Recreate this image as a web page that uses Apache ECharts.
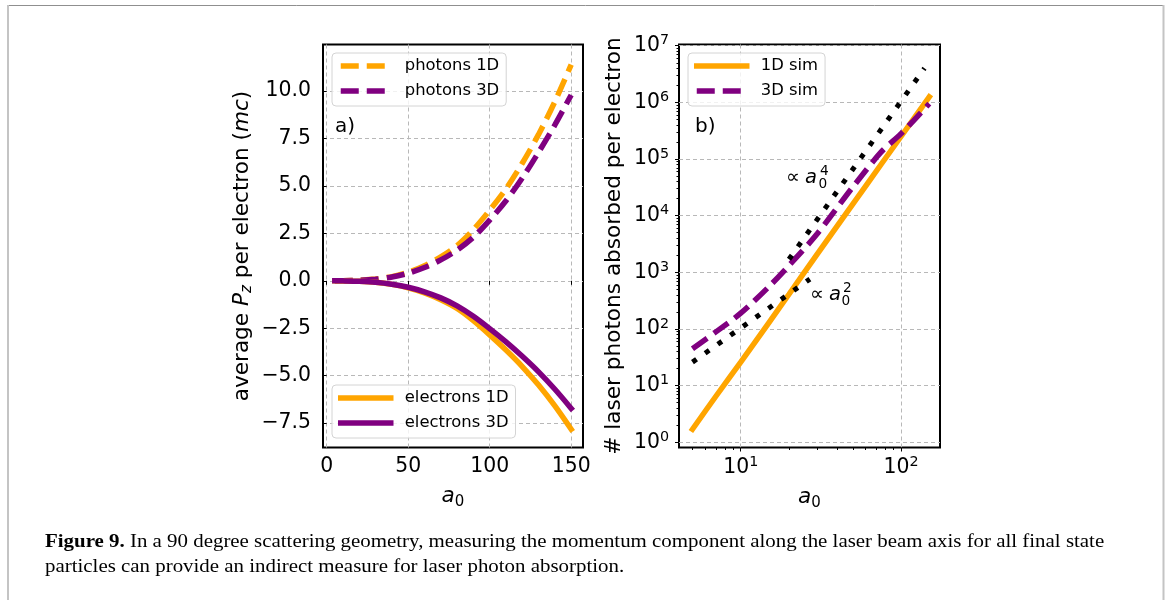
<!DOCTYPE html>
<html>
<head>
<meta charset="utf-8">
<script src="https://cdn.jsdelivr.net/npm/echarts@6/dist/echarts.min.js"></script>
<style>
html, body { margin: 0; padding: 0; background: #fff; }
#container { width: 1167px; height: 600px; }
</style>
</head>
<body>
<div id="container"></div>
<script>
var dom = document.getElementById("container");
var myChart = echarts.init(dom);

var FONT = 'DejaVu Sans';
var ORANGE = '#ffa500';
var PURPLE = '#800080';

// panel a) average Pz per electron
var a0 = [5, 10, 20, 30, 40, 50, 60, 70, 80, 90, 100, 110, 120, 130, 140, 150];
var photons1D = [0, 0.003, 0.025, 0.09, 0.22, 0.45, 0.8, 1.26, 1.86, 2.7, 3.72, 4.85, 6.2, 7.72, 9.45, 11.4];
var photons3D = [0, 0.003, 0.025, 0.085, 0.2, 0.4, 0.7, 1.1, 1.62, 2.3, 3.2, 4.22, 5.42, 6.78, 8.22, 9.8];
var electrons1D = [0, -0.003, -0.025, -0.08, -0.19, -0.37, -0.64, -1.0, -1.46, -2.1, -2.85, -3.65, -4.52, -5.5, -6.6, -7.83];
var electrons3D = [0, -0.003, -0.024, -0.075, -0.18, -0.34, -0.58, -0.9, -1.32, -1.87, -2.52, -3.22, -3.98, -4.8, -5.72, -6.73];

// panel b) laser photons absorbed per electron
var a0Sim = [5, 7, 10, 15, 20, 30, 50, 75, 100, 150];
var sim1D = [1.7, 6.5, 26, 130, 410, 2100, 16000, 80000, 250000, 1250000];
var sim3D = [45, 89, 190, 560, 1320, 4800, 32000, 132000, 280000, 950000];
var guideA4X = [20, 140];
var guideA4Y = [1700, 4000000];
var guideA2X = [5, 27];
var guideA2Y = [26, 760];

// ticks
var leftXTicks = [0, 50, 100, 150];
var leftYTicks = [-7.5, -5, -2.5, 0, 2.5, 5, 7.5, 10];
var logXTicks = [10, 100];
var logYTicks = [1, 10, 100, 1000, 10000, 100000, 1000000, 10000000];
var logXMinor = [5, 6, 7, 8, 9, 20, 30, 40, 50, 60, 70, 80, 90];
var logYMinor = [];
for (var e = 0; e < 7; e++) {
    for (var k = 2; k < 10; k++) logYMinor.push(k * Math.pow(10, e));
}

function pairs(xs, ys) {
    return xs.map(function (x, i) { return [x, ys[i]]; });
}

var gridLine = { show: true, lineStyle: { color: '#b8b8b8', width: 1, type: [4, 3] } };
var tick = function (vals, len) {
    return { show: true, inside: false, length: len, customValues: vals, lineStyle: { color: '#000', width: 1 } };
};
var tickFont = { color: '#000', fontFamily: FONT, fontSize: 20.4 };
var powLabel = function (v) {
    return '{b|10}{s|' + Math.round(Math.log10(v)) + '}';
};
var powRich = {
    b: { fontFamily: FONT, fontSize: 20.4, color: '#000', lineHeight: 24 },
    s: { fontFamily: FONT, fontSize: 14.3, color: '#000', lineHeight: 14, verticalAlign: 'top' }
};
var nameRich = {
    t: { fontFamily: FONT, fontSize: 21.6, color: '#000', lineHeight: 26 },
    i: { fontFamily: FONT, fontSize: 21.6, color: '#000', fontStyle: 'italic', lineHeight: 26 },
    s: { fontFamily: FONT, fontSize: 15, color: '#000', fontStyle: 'italic', lineHeight: 16, verticalAlign: 'bottom' },
    n: { fontFamily: FONT, fontSize: 15, color: '#000', lineHeight: 16, verticalAlign: 'bottom' }
};
var legendBase = {
    orient: 'vertical',
    itemWidth: 50,
    itemHeight: 14,
    itemGap: 9,
    selectedMode: false,
    backgroundColor: 'rgba(255,255,255,0.8)',
    borderColor: '#d4d4d4',
    borderWidth: 1,
    borderRadius: 4,
    padding: [5, 7, 7, 6],
    itemStyle: { opacity: 0 },
    lineStyle: { width: 5.5, opacity: 1 },
    textStyle: { color: '#000', fontFamily: FONT, fontSize: 16.4, padding: [0, 0, 0, 9] }
};

var option = {
    animation: false,
    backgroundColor: '#fff',
    grid: [
        { left: 323, top: 44.5, width: 260, height: 403, show: true, borderColor: '#000', borderWidth: 2 },
        { left: 679, top: 44.5, width: 261, height: 403, show: true, borderColor: '#000', borderWidth: 2 }
    ],
    legend: [
        echarts.util.extend({ data: ['photons 1D', 'photons 3D'], left: 332, top: 53 }, legendBase),
        echarts.util.extend({ data: ['electrons 1D', 'electrons 3D'], left: 332, top: 385 }, legendBase),
        echarts.util.extend({ data: ['1D sim', '3D sim'], left: 688, top: 53 }, legendBase)
    ],
    xAxis: [
        {
            type: 'value', gridIndex: 0, min: -2.25, max: 157.25,
            axisLine: { show: false },
            axisTick: tick(leftXTicks, 4),
            axisLabel: echarts.util.extend({ customValues: leftXTicks, margin: 9 }, tickFont),
            splitLine: gridLine,
            name: '{i|a}{n|0}', nameLocation: 'middle', nameGap: 36,
            nameTextStyle: { rich: nameRich }
        },
        {
            type: 'log', gridIndex: 1, min: 4.12, max: 175,
            axisLine: { show: false },
            axisTick: tick(logXTicks, 4),
            axisLabel: { customValues: logXTicks, margin: 8, formatter: powLabel, rich: powRich },
            splitLine: gridLine,
            name: '{i|a}{n|0}', nameLocation: 'middle', nameGap: 37,
            nameTextStyle: { rich: nameRich }
        },
        {
            type: 'log', gridIndex: 1, min: 4.12, max: 175, position: 'bottom',
            axisLine: { show: false },
            axisTick: tick(logXMinor, 2.5),
            axisLabel: { show: false },
            splitLine: { show: false }
        }
    ],
    yAxis: [
        {
            type: 'value', gridIndex: 0, min: -8.79, max: 12.46,
            axisLine: { show: false },
            axisTick: tick(leftYTicks, 4),
            axisLabel: echarts.util.extend({
                customValues: leftYTicks, margin: 12,
                formatter: function (v) { return (v < 0 ? '\u2212' : '') + Math.abs(v).toFixed(1); }
            }, tickFont),
            splitLine: gridLine,
            name: '{t|average }{i|P}{s|z}{t| per electron (}{i|mc}{t|)}',
            nameLocation: 'middle', nameGap: 68, nameRotate: 90,
            nameTextStyle: { rich: nameRich }
        },
        {
            type: 'log', gridIndex: 1, min: 0.81, max: 1.05e7,
            axisLine: { show: false },
            axisTick: tick(logYTicks, 4),
            axisLabel: { customValues: logYTicks, margin: 10, formatter: powLabel, rich: powRich },
            splitLine: gridLine,
            name: '# laser photons absorbed per electron',
            nameLocation: 'middle', nameGap: 54, nameRotate: 90,
            nameTextStyle: { color: '#000', fontFamily: FONT, fontSize: 21.6 }
        },
        {
            type: 'log', gridIndex: 1, min: 0.81, max: 1.05e7, position: 'left',
            axisLine: { show: false },
            axisTick: tick(logYMinor, 2.5),
            axisLabel: { show: false },
            splitLine: { show: false }
        }
    ],
    series: [
        {
            name: 'photons 1D', type: 'line', xAxisIndex: 0, yAxisIndex: 0,
            data: pairs(a0, photons1D), symbol: 'none', smooth: 0.3,
            itemStyle: { color: ORANGE },
            lineStyle: { color: ORANGE, width: 5.5, type: [18, 8] }
        },
        {
            name: 'photons 3D', type: 'line', xAxisIndex: 0, yAxisIndex: 0,
            data: pairs(a0, photons3D), symbol: 'none', smooth: 0.3,
            itemStyle: { color: PURPLE },
            lineStyle: { color: PURPLE, width: 5.5, type: [18, 8] }
        },
        {
            name: 'electrons 1D', type: 'line', xAxisIndex: 0, yAxisIndex: 0,
            data: pairs(a0, electrons1D), symbol: 'none', smooth: 0.3,
            itemStyle: { color: ORANGE },
            lineStyle: { color: ORANGE, width: 5.5, cap: 'square' }
        },
        {
            name: 'electrons 3D', type: 'line', xAxisIndex: 0, yAxisIndex: 0,
            data: pairs(a0, electrons3D), symbol: 'none', smooth: 0.3,
            itemStyle: { color: PURPLE },
            lineStyle: { color: PURPLE, width: 5.5, cap: 'square' }
        },
        {
            name: '1D sim', type: 'line', xAxisIndex: 1, yAxisIndex: 1,
            data: pairs(a0Sim, sim1D), symbol: 'none', smooth: 0.3,
            itemStyle: { color: ORANGE },
            lineStyle: { color: ORANGE, width: 5.5, cap: 'square' }
        },
        {
            name: '3D sim', type: 'line', xAxisIndex: 1, yAxisIndex: 1,
            data: pairs(a0Sim, sim3D), symbol: 'none', smooth: 0.3,
            itemStyle: { color: PURPLE },
            lineStyle: { color: PURPLE, width: 5.5, type: [18, 8] }
        },
        {
            name: 'a0^4', type: 'line', xAxisIndex: 1, yAxisIndex: 1,
            data: pairs(guideA4X, guideA4Y), symbol: 'none',
            lineStyle: { color: '#000', width: 5, type: [5, 10.5] }
        },
        {
            name: 'a0^2', type: 'line', xAxisIndex: 1, yAxisIndex: 1,
            data: pairs(guideA2X, guideA2Y), symbol: 'none',
            lineStyle: { color: '#000', width: 5, type: [5, 10.5] }
        }
    ],
    graphic: [
        // page frame
        { type: 'line', shape: { x1: 7, y1: 5.5, x2: 1164, y2: 5.5 }, style: { stroke: '#8f8f8f', lineWidth: 1 } },
        { type: 'line', shape: { x1: 8, y1: 5, x2: 8, y2: 600 }, style: { stroke: '#c4c4c4', lineWidth: 2 } },
        { type: 'line', shape: { x1: 1163.5, y1: 5, x2: 1163.5, y2: 600 }, style: { stroke: '#c4c4c4', lineWidth: 2 } },
        // panel tags
        { type: 'text', x: 335, y: 127, style: { text: 'a)', fill: '#000', font: '20px "DejaVu Sans"', verticalAlign: 'middle' } },
        { type: 'text', x: 695, y: 127, style: { text: 'b)', fill: '#000', font: '20px "DejaVu Sans"', verticalAlign: 'middle' } },
        // scaling annotations
        { type: 'text', x: 786, y: 178, style: { text: '\u221d', fill: '#000', font: '19.5px "DejaVu Sans"', verticalAlign: 'middle' } },
        { type: 'text', x: 805, y: 178, style: { text: 'a', fill: '#000', font: 'italic 19.5px "DejaVu Sans"', verticalAlign: 'middle' } },
        { type: 'text', x: 820, y: 171.5, style: { text: '4', fill: '#000', font: '13.7px "DejaVu Sans"', verticalAlign: 'middle' } },
        { type: 'text', x: 818.5, y: 184.5, style: { text: '0', fill: '#000', font: '13.7px "DejaVu Sans"', verticalAlign: 'middle' } },
        { type: 'text', x: 810, y: 295, style: { text: '\u221d', fill: '#000', font: '19.5px "DejaVu Sans"', verticalAlign: 'middle' } },
        { type: 'text', x: 829, y: 295, style: { text: 'a', fill: '#000', font: 'italic 19.5px "DejaVu Sans"', verticalAlign: 'middle' } },
        { type: 'text', x: 843, y: 288.5, style: { text: '2', fill: '#000', font: '13.7px "DejaVu Sans"', verticalAlign: 'middle' } },
        { type: 'text', x: 841.5, y: 301.5, style: { text: '0', fill: '#000', font: '13.7px "DejaVu Sans"', verticalAlign: 'middle' } },
        // caption
        {
            type: 'text', x: 45, y: 530, scaleX: 1.1,
            style: {
                text: '{b|Figure 9.} In a 90 degree scattering geometry, measuring the momentum component along the laser beam axis for all final state\nparticles can provide an indirect measure for laser photon absorption.',
                fill: '#000',
                font: '19px "Liberation Serif"',
                lineHeight: 25,
                rich: {
                    b: { fontFamily: 'Liberation Serif', fontSize: 19, fontWeight: 'bold', lineHeight: 25 }
                }
            }
        }
    ]
};

if (option && typeof option === "object") {
    myChart.setOption(option, true);
}
</script>
</body>
</html>
